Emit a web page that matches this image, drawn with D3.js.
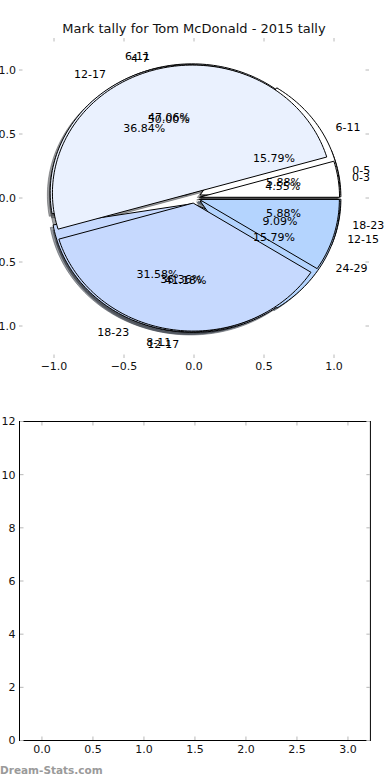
<!DOCTYPE html>
<html><head><meta charset="utf-8">
<script src="https://cdn.jsdelivr.net/npm/d3@7"></script>
<style>body{margin:0;background:#fff} text{font-family:"DejaVu Sans",sans-serif}</style>
</head><body><svg id="c" width="390" height="780"></svg>
<script>
// ---- data ----
const pieALabels = ["0-5","6-11","12-17","18-23"];
const pieAValues = [1,8,7,1];
const pieBLabels = ["6-11","12-17","18-23","24-29"];
const pieBValues = [3,7,6,3];
const pieCLabels = ["0-3","4-7","8-11","12-15"];
const pieCValues = [1,11,8,2];
const pieExplode = [0.05,0.05,0.04];
const sliceColors = ["#ffffff","#eaf1fe","#c6d9fe","#b4d4fe"];
const pieTicks = [-1,-0.5,0,0.5,1];
const barXTicks = [0,0.5,1,1.5,2,2.5,3];
const barYTicks = [0,2,4,6,8,10,12];
const chartTitle = "Mark tally for Tom McDonald - 2015 tally";
const watermark = "Dream-Stats.com";

const svg = d3.select("#c");
const fmt1 = d3.format(".1f");
const tickGrey = "#b8b8b8";

// ---- pie axes ----
const px = d3.scaleLinear().domain([-1.25,1.25]).range([19,369]);
const py = d3.scaleLinear().domain([-1.25,1.25]).range([358,38]);

svg.append("text").attr("x",194).attr("y",33).attr("text-anchor","middle")
  .attr("font-size","13px").attr("fill","#111").text(chartTitle);

const pies = [
  {labels:pieALabels, values:pieAValues, explode:pieExplode[0]},
  {labels:pieBLabels, values:pieBValues, explode:pieExplode[1]},
  {labels:pieCLabels, values:pieCValues, explode:pieExplode[2]}
];
const rad = Math.PI/180;
pies.forEach(p=>{
  const total = d3.sum(p.values);
  let acc = 0;
  p.wedges = p.values.map((v,i)=>{
    const t1 = 360*acc/total; acc += v; const t2 = 360*acc/total;
    const mid = (t1+t2)/2*rad;
    return {i, t1, t2, mid, v, pct:100*v/total, label:p.labels[i],
      cx:p.explode*Math.cos(mid), cy:p.explode*Math.sin(mid)};
  });
});

const line = d3.line().x(d=>px(d[0])).y(d=>py(d[1]));
function wedgePts(w, ox, oy){
  const pts = [[w.cx+ox, w.cy+oy]];
  const n = Math.max(8, Math.ceil((w.t2-w.t1)/1.5));
  for(let k=0;k<=n;k++){
    const a = (w.t1 + (w.t2-w.t1)*k/n)*rad;
    pts.push([w.cx+ox+Math.cos(a), w.cy+oy+Math.sin(a)]);
  }
  pts.push([w.cx+ox, w.cy+oy]);
  return pts;
}
function shade(c){
  const r = d3.rgb(c);
  return `rgba(${Math.round(r.r*0.3)},${Math.round(r.g*0.3)},${Math.round(r.b*0.3)},0.5)`;
}
const gPie = svg.append("g");
// shadows (below all wedges)
pies.forEach(p=>p.wedges.forEach(w=>{
  const s = shade(sliceColors[w.i]);
  gPie.append("path").attr("d", line(wedgePts(w,-0.02,-0.02))+"Z")
    .attr("fill", s).attr("stroke", s).attr("stroke-width",1);
}));
// wedges
pies.forEach(p=>p.wedges.forEach(w=>{
  gPie.append("path").attr("d", line(wedgePts(w,0,0))+"Z")
    .attr("fill", sliceColors[w.i]).attr("stroke","#000").attr("stroke-width",1)
    .attr("stroke-linejoin","miter");
}));
// texts
pies.forEach(p=>p.wedges.forEach(w=>{
  const lx = w.cx + 1.1*Math.cos(w.mid), ly = w.cy + 1.1*Math.sin(w.mid);
  svg.append("text").attr("x",px(lx)).attr("y",py(ly)).attr("dy","0.32em")
    .attr("text-anchor", lx>0 ? "start":"end").attr("font-size","11px").attr("fill","#000")
    .text(w.label);
  const tx = w.cx + 0.6*Math.cos(w.mid), ty = w.cy + 0.6*Math.sin(w.mid);
  svg.append("text").attr("x",px(tx)).attr("y",py(ty)).attr("dy","0.32em")
    .attr("text-anchor","middle").attr("font-size","11px").attr("fill","#000")
    .text(w.pct.toFixed(2)+"%");
}));
// pie ticks
const gT = svg.append("g").attr("stroke",tickGrey).attr("stroke-width",1);
pieTicks.forEach(t=>{
  gT.append("line").attr("x1",px(t)).attr("x2",px(t)).attr("y1",38).attr("y2",41.5);
  gT.append("line").attr("x1",px(t)).attr("x2",px(t)).attr("y1",358).attr("y2",354.5);
  gT.append("line").attr("y1",py(t)).attr("y2",py(t)).attr("x1",19).attr("x2",22.5);
  gT.append("line").attr("y1",py(t)).attr("y2",py(t)).attr("x1",369).attr("x2",365.5);
  svg.append("text").attr("x",px(t)).attr("y",369.5).attr("text-anchor","middle")
    .attr("font-size","11px").attr("fill","#111").text(fmt1(t));
  svg.append("text").attr("x",16).attr("y",py(t)).attr("dy","0.35em").attr("text-anchor","end")
    .attr("font-size","11px").attr("fill","#111").text(fmt1(t));
});

// ---- bottom (empty) axes ----
const bx = d3.scaleLinear().domain([-0.22,3.22]).range([19.5,370.4]);
const by = d3.scaleLinear().domain([0,12]).range([740.5,421.5]);
const gB = svg.append("g");
gB.append("rect").attr("x",bx(-0.22)).attr("y",by(12)).attr("width",bx(3.22)-bx(-0.22))
  .attr("height",by(0)-by(12)).attr("fill","none").attr("stroke","#000").attr("stroke-width",1);
const gBT = gB.append("g").attr("stroke",tickGrey).attr("stroke-width",1);
barXTicks.forEach(t=>{
  gBT.append("line").attr("x1",bx(t)).attr("x2",bx(t)).attr("y1",by(0)-0.5).attr("y2",by(0)-4);
  gBT.append("line").attr("x1",bx(t)).attr("x2",bx(t)).attr("y1",by(12)+0.5).attr("y2",by(12)+4);
  gB.append("text").attr("x",bx(t)).attr("y",753).attr("text-anchor","middle")
    .attr("font-size","11px").attr("fill","#111").text(fmt1(t));
});
barYTicks.forEach(t=>{
  gBT.append("line").attr("y1",by(t)).attr("y2",by(t)).attr("x1",bx(-0.22)+0.5).attr("x2",bx(-0.22)+4);
  gBT.append("line").attr("y1",by(t)).attr("y2",by(t)).attr("x1",bx(3.22)-0.5).attr("x2",bx(3.22)-4);
  gB.append("text").attr("x",15.5).attr("y",by(t)).attr("dy","0.35em").attr("text-anchor","end")
    .attr("font-size","11px").attr("fill","#111").text(t);
});
svg.append("text").attr("x",0).attr("y",774).attr("font-size","10.5px").attr("font-weight","bold")
  .attr("fill","#9a9a9a").text(watermark);
</script></body></html>
